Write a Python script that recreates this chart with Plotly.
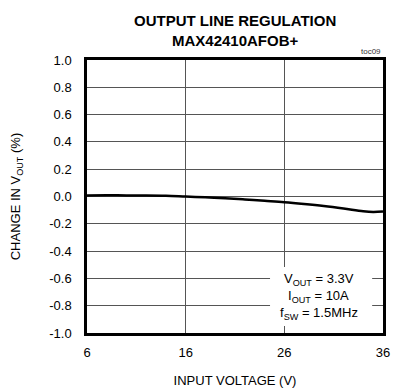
import plotly.graph_objects as go

vin = [6, 8, 10, 12, 14, 16, 18, 20, 22, 24, 26, 28, 30, 32, 34, 35, 36]
dvout = [0.008, 0.009, 0.008, 0.008, 0.006, 0.0, -0.006, -0.013, -0.022, -0.032, -0.042, -0.055, -0.07, -0.088, -0.108, -0.113, -0.11]

x_ticks = [6, 16, 26, 36]
y_ticks = [1.0, 0.8, 0.6, 0.4, 0.2, 0.0, -0.2, -0.4, -0.6, -0.8, -1.0]

cond_lines = ["V<sub>OUT</sub> = 3.3V", "I<sub>OUT</sub> = 10A", "f<sub>SW</sub> = 1.5MHz"]
cond_y = [-0.605, -0.729, -0.86]

FONT = "Liberation Sans, Arial, sans-serif"

fig = go.Figure()
fig.add_trace(go.Scatter(x=vin, y=dvout, mode="lines", line=dict(color="black", width=2.5, shape="spline"),
                         showlegend=False))

annotations = [
    dict(text="<b>OUTPUT LINE REGULATION</b><br><b>MAX42410AFOB+</b>", x=0.5, xref="paper",
         y=1.0, yref="paper", yshift=50, yanchor="top", showarrow=False, font=dict(size=15)),
    dict(text="toc09", x=1.0, xref="paper", y=1.0, yref="paper", xanchor="right", yanchor="bottom",
         yshift=2, showarrow=False, font=dict(size=8, color="#333")),
]
for t, yy in zip(cond_lines, cond_y):
    annotations.append(dict(text=t, x=29.5, y=yy, xref="x", yref="y", showarrow=False,
                            font=dict(size=13)))

fig.update_layout(
    width=392, height=380,
    margin=dict(l=79, r=17, t=52, b=55),
    paper_bgcolor="white", plot_bgcolor="white",
    font=dict(family=FONT, size=13, color="black"),
    xaxis=dict(range=[6, 36], tickvals=x_ticks, ticktext=[str(v) for v in x_ticks],
               showgrid=True, gridcolor="#555", gridwidth=1, zeroline=False, automargin=False,
               showline=True, linecolor="black", linewidth=2.5, mirror=True, ticks="",
               ticklabelstandoff=6,
               title=dict(text="INPUT VOLTAGE (V)", font=dict(size=13), standoff=17)),
    yaxis=dict(range=[-1.0, 1.0], tickvals=y_ticks, ticktext=[f"{v:.1f}" for v in y_ticks],
               showgrid=True, gridcolor="#555", gridwidth=1, zeroline=False, automargin=False,
               showline=True, linecolor="black", linewidth=2.5, mirror=True, ticks="",
               ticklabelstandoff=10,
               title=dict(text="CHANGE IN V<sub>OUT</sub> (%)", font=dict(size=13), standoff=27)),
    shapes=[dict(type="rect", xref="x", yref="y", x0=24.55, x1=34.9, y0=-0.949, y1=-0.516,
                 fillcolor="white", line=dict(width=0), layer="above")],
    annotations=annotations,
)

fig.write_html("out.html")
